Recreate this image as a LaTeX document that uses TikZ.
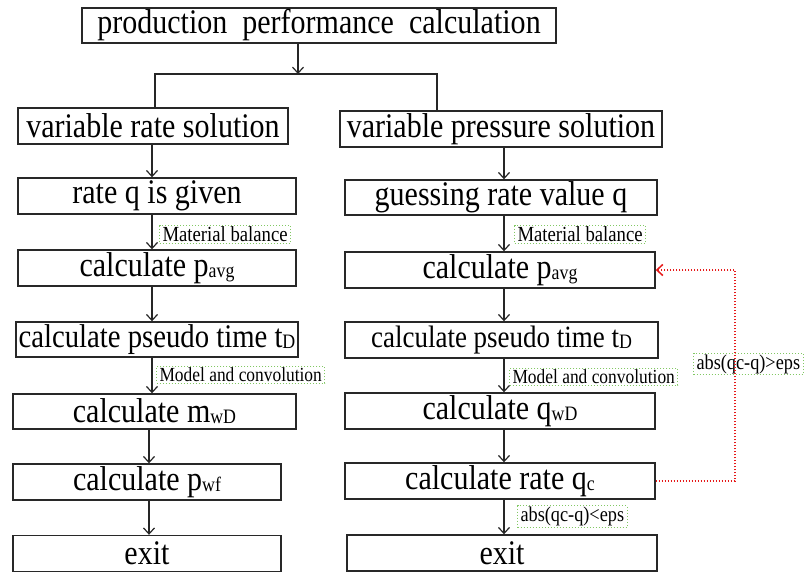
\documentclass[tikz,border=0pt]{standalone}
\usepackage{fontspec}
\setmainfont{Liberation Serif}[FakeStretch=0.87]
\usetikzlibrary{arrows.meta}
\definecolor{boxline}{RGB}{40,40,40}
\definecolor{lblgreen}{RGB}{130,200,100}
\definecolor{loopred}{RGB}{230,25,25}
\newcommand\subtxt[1]{\raisebox{-1pt}{\fontsize{20.5}{21}\selectfont #1}}
\begin{document}
\begin{tikzpicture}[x=1pt,y=-1pt,
  box/.style={draw=boxline,line width=1.4pt,inner sep=0pt,font=\fontsize{34.5}{36}\selectfont},
  lbl/.style={draw=lblgreen,dotted,line width=1pt,inner xsep=3pt,inner ysep=1pt,font=\fontsize{20}{21}\selectfont,anchor=west},
  mbl/.style={lbl,font=\fontsize{21.5}{22}\selectfont},
  cmp/.style={lbl,font=\fontsize{21}{22}\selectfont},
  arr/.style={draw=black!85,line width=1.2pt,-{Straight Barb[length=6pt,width=11pt]}},
  conn/.style={draw=black!85,line width=1.2pt},
  loopln/.style={draw=loopred,dash pattern=on 1.6pt off 1.4pt,line width=1.5pt,-{Straight Barb[length=6pt,width=11pt]}}]
\useasboundingbox (0,0) rectangle (806,573);
% top
\node[box,minimum width=474pt,minimum height=35pt] (top) at (319,25.5) {production\ \ performance\ \ calculation};
% left column
\node[box,minimum width=270pt,minimum height=36pt] (vr) at (153,126) {variable rate solution};
\node[box,minimum width=278pt,minimum height=36pt] (rq) at (157,196) {rate q is given};
\node[box,minimum width=278pt,minimum height=36pt] (lpavg) at (157,268) {calculate p\subtxt{avg}};
\node[box,minimum width=282pt,minimum height=35pt,font=\fontsize{33}{34}\selectfont] (ltd) at (157,339.5) {calculate pseudo time t\subtxt{D}};
\node[box,minimum width=283pt,minimum height=35pt] (mwd) at (154.5,411.5) {calculate m\subtxt{wD}};
\node[box,minimum width=268pt,minimum height=36pt] (pwf) at (147,482) {calculate p\subtxt{wf}};
\node[box,minimum width=268pt,minimum height=36pt] (lexit) at (147,553.5) {exit};
% right column
\node[box,minimum width=322pt,minimum height=36pt] (vp) at (501,129) {variable pressure solution};
\node[box,minimum width=312pt,minimum height=35pt] (gr) at (501,197.5) {guessing rate value q};
\node[box,minimum width=310pt,minimum height=36pt] (rpavg) at (500,270) {calculate p\subtxt{avg}};
\node[box,minimum width=313pt,minimum height=36pt,font=\fontsize{31}{32}\selectfont] (rtd) at (501.5,340) {calculate pseudo time t\subtxt{D}};
\node[box,minimum width=310pt,minimum height=36pt] (qwd) at (500,411) {calculate q\subtxt{wD}};
\node[box,minimum width=310pt,minimum height=36pt] (qc) at (500,481) {calculate rate q\subtxt{c}};
\node[box,minimum width=310pt,minimum height=36pt] (rexit) at (502,553) {exit};
% labels
\node[mbl] (lmb) at (159,234.5) {Material balance};
\node[mbl] (rmb) at (514,234.5) {Material balance};
\node[lbl] (lmc) at (156,375) {Model and convolution};
\node[lbl] (rmc) at (509,377) {Model and convolution};
\node[cmp] (lt) at (517,516.5) {abs(qc-q)<eps};
\node[cmp] (gt) at (693,364) {abs(qc-q)>eps};
% coordinates
\coordinate (tx) at (298,74);
\coordinate (jl) at (155,74);
\coordinate (jr) at (437,74);
\coordinate (lx) at (152,0);
\coordinate (lx2) at (149,0);
\coordinate (rx) at (504,0);
\coordinate (lp) at (735,0);
% connectors
\draw[arr] (top.south -| tx) -- (tx);
\draw[conn] (vr.north -| jl) -- (jl) -- (jr) -- (vp.north -| jr);
\draw[arr] (vr.south -| lx) -- (rq.north -| lx);
\draw[arr] (rq.south -| lx) -- (lpavg.north -| lx);
\draw[arr] (lpavg.south -| lx) -- (ltd.north -| lx);
\draw[arr] (ltd.south -| lx) -- (mwd.north -| lx);
\draw[arr] (mwd.south -| lx2) -- (pwf.north -| lx2);
\draw[arr] (pwf.south -| lx2) -- (lexit.north -| lx2);
\draw[arr] (vp.south -| rx) -- (gr.north -| rx);
\draw[arr] (gr.south -| rx) -- (rpavg.north -| rx);
\draw[arr] (rpavg.south -| rx) -- (rtd.north -| rx);
\draw[arr] (rtd.south -| rx) -- (qwd.north -| rx);
\draw[arr] (qwd.south -| rx) -- (qc.north -| rx);
\draw[arr] (qc.south -| rx) -- (rexit.north -| rx);
\draw[loopln] (qc.east) -- (qc.east -| lp) |- (rpavg.east);
\end{tikzpicture}
\end{document}
